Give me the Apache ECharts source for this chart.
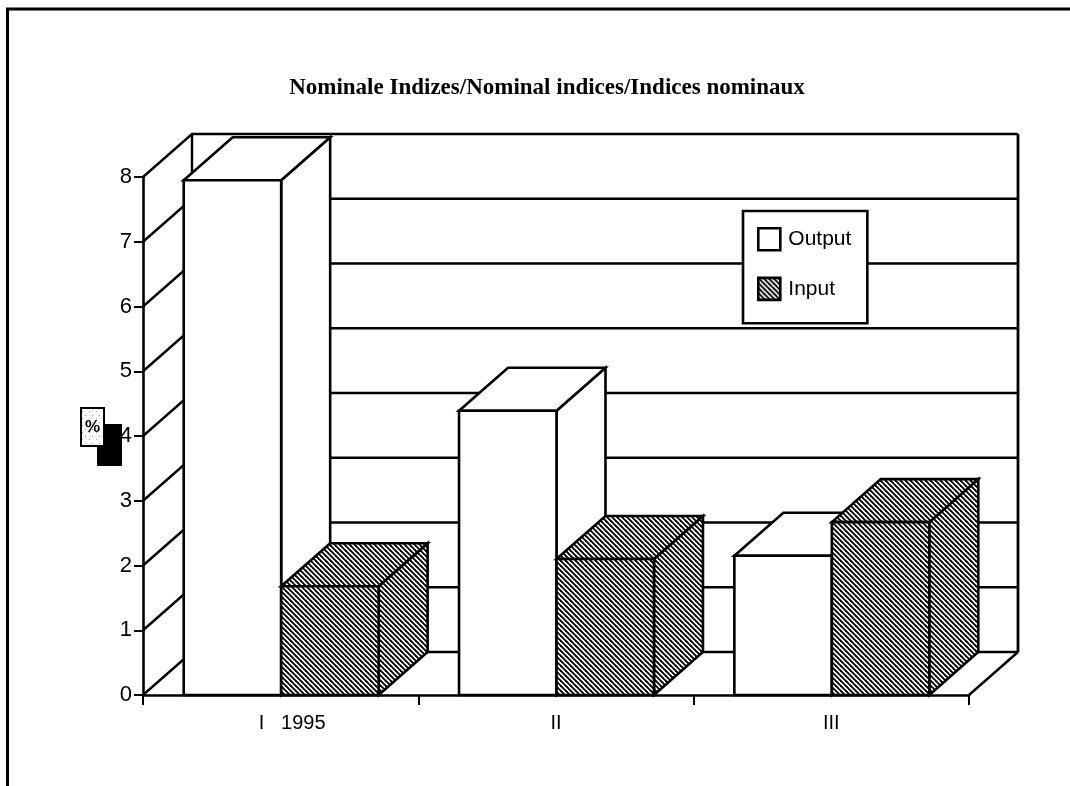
<!DOCTYPE html>
<html>
<head>
<meta charset="utf-8">
<style>html,body{margin:0;padding:0;background:#fff}#main{width:1070px;height:786px}</style>
<script src="https://cdn.jsdelivr.net/npm/echarts@6/dist/echarts.min.js"></script>
</head>
<body>
<div id="main"></div>
<script>
// data
var categories = ['I   1995', 'II', 'III'];
var outputValues = [7.95, 4.39, 2.15];
var inputValues = [1.68, 2.1, 2.67];
var valueTicks = [0, 1, 2, 3, 4, 5, 6, 7, 8];

// depth of the fake 3d box
var depthX = 49;
var depthY = -43;
var lineColor = '#000';

// hatch tile for the input bars
function makeHatch() {
    var c = document.createElement('canvas');
    c.width = 5;
    c.height = 5;
    var ctx = c.getContext('2d');
    ctx.fillStyle = '#fff';
    ctx.fillRect(0, 0, 5, 5);
    ctx.strokeStyle = '#000';
    ctx.lineWidth = 1.9;
    [-5, 0, 5].forEach(function (o) {
        ctx.beginPath();
        ctx.moveTo(o - 1, -1);
        ctx.lineTo(o + 6, 6);
        ctx.stroke();
    });
    return {image: c, repeat: 'repeat'};
}
// speckled tile behind the % sign
function makeSpeckle() {
    var c = document.createElement('canvas');
    c.width = 7;
    c.height = 7;
    var ctx = c.getContext('2d');
    ctx.fillStyle = '#fff';
    ctx.fillRect(0, 0, 7, 7);
    ctx.fillStyle = '#999';
    ctx.fillRect(1, 2, 1, 1);
    ctx.fillRect(5, 5, 1, 1);
    return {image: c, repeat: 'repeat'};
}
var hatch = makeHatch();

var chart = echarts.init(document.getElementById('main'));

function line(points, width) {
    return {
        type: 'polyline',
        shape: {points: points},
        style: {fill: null, stroke: lineColor, lineWidth: width || 2}
    };
}

// back wall, left wall and floor
function renderWall(params, api) {
    var cs = params.coordSys;
    var v = api.value(1);
    var y = api.coord([0, v])[1];
    var x0 = cs.x;
    var x1 = cs.x + cs.width;
    var top = api.coord([0, valueTicks[valueTicks.length - 1]])[1];
    var bottom = api.coord([0, 0])[1];
    var kids = [line([[x0, y], [x0 + depthX, y + depthY], [x1 + depthX, y + depthY]], 2.4)];
    if (v === 0) {
        kids.push(line([[x1, y], [x1 + depthX, y + depthY]], 2.4));
        kids.push(line([[x0 + depthX, top + depthY], [x0 + depthX, bottom + depthY]], 2.4));
        kids.push(line([[x1 + depthX, top + depthY], [x1 + depthX, bottom + depthY]], 2.8));
    }
    return {type: 'group', children: kids};
}

// one fake 3d column, slot is -1 for left of centre and 0 for right of centre
function makeBar(slot, fill) {
    return function (params, api) {
        var band = api.size([1, 0])[0];
        var w = band * 0.354;
        var c = api.coord([api.value(0), 0]);
        var t = api.coord([api.value(0), api.value(1)]);
        var l = c[0] + slot * w + 0.5;
        var r = l + w;
        var s = {fill: fill, stroke: lineColor, lineWidth: 2.6, lineJoin: 'miter'};
        function poly(pts) {
            return {type: 'polygon', shape: {points: pts}, style: s};
        }
        return {
            type: 'group',
            children: [
                poly([[r, c[1]], [r + depthX, c[1] + depthY], [r + depthX, t[1] + depthY], [r, t[1]]]),
                poly([[l, t[1]], [l + depthX, t[1] + depthY], [r + depthX, t[1] + depthY], [r, t[1]]]),
                poly([[l, c[1]], [l, t[1]], [r, t[1]], [r, c[1]]])
            ]
        };
    };
}

var option = {
    animation: false,
    backgroundColor: '#fff',
    title: {
        text: 'Nominale Indizes/Nominal indices/Indices nominaux',
        left: 542,
        top: 72,
        textAlign: 'center',
        textStyle: {fontFamily: 'Liberation Serif', fontWeight: 'bold', fontSize: 23, color: '#000'}
    },
    grid: {left: 143, right: 101, top: 177, bottom: 91},
    legend: {
        left: 743,
        top: 211,
        orient: 'vertical',
        backgroundColor: '#fff',
        borderColor: '#000',
        borderWidth: 2.6,
        borderRadius: 0,
        padding: [16, 16, 22, 14],
        itemWidth: 22,
        itemHeight: 22,
        itemGap: 25,
        z: 20,
        selectedMode: false,
        textStyle: {fontFamily: 'Liberation Sans', fontSize: 21, color: '#000', padding: [3, 0, 0, 3]},
        data: [
            {name: 'Output', icon: 'rect', itemStyle: {color: '#fff', borderColor: '#000', borderWidth: 2.6}},
            {name: 'Input', icon: 'rect', itemStyle: {color: hatch, borderColor: '#000', borderWidth: 2.6}}
        ]
    },
    xAxis: {
        type: 'category',
        data: categories,
        axisLine: {lineStyle: {color: '#000', width: 2.6}},
        axisTick: {show: true, length: 10, lineStyle: {color: '#000', width: 2}},
        axisLabel: {
            margin: 18,
            color: '#000',
            fontFamily: 'Liberation Sans',
            fontSize: 20,
            formatter: function (val, i) {
                return i === 0 ? '{first|' + val + '}' : val;
            },
            rich: {first: {padding: [0, 0, 0, 23], fontFamily: 'Liberation Sans', fontSize: 20, color: '#000'}}
        }
    },
    yAxis: {
        type: 'value',
        min: 0,
        max: 8,
        interval: 1,
        splitLine: {show: false},
        axisLine: {show: true, lineStyle: {color: '#000', width: 2.6}},
        axisTick: {show: true, length: 9, lineStyle: {color: '#000', width: 2}},
        axisLabel: {margin: 11, color: '#000', fontFamily: 'Liberation Sans', fontSize: 22}
    },
    graphic: [
        // page frame, only left and top sides
        {type: 'polyline', shape: {points: [[7.5, 786], [7.5, 9], [1070, 9]]}, style: {fill: null, stroke: '#000', lineWidth: 3}},
        // % badge with its black shadow
        {type: 'rect', z: 1, shape: {x: 97, y: 424, width: 25, height: 42}, style: {fill: '#000'}},
        {type: 'rect', z: 2, shape: {x: 81, y: 408, width: 23, height: 38}, style: {fill: makeSpeckle(), stroke: '#000', lineWidth: 2}},
        {type: 'text', z: 3, x: 92.5, y: 427, style: {text: '%', fill: '#000', font: 'bold 17px "Liberation Sans"', align: 'center', verticalAlign: 'middle'}}
    ],
    series: [
        {
            name: 'wall',
            type: 'custom',
            renderItem: renderWall,
            data: valueTicks.map(function (v) { return [0, v]; }),
            z: 1,
            silent: true
        },
        {
            name: 'Output',
            type: 'custom',
            renderItem: makeBar(-1, '#fff'),
            data: outputValues.map(function (v, i) { return [i, v]; }),
            itemStyle: {color: '#fff'},
            z: 2
        },
        {
            name: 'Input',
            type: 'custom',
            renderItem: makeBar(0, hatch),
            data: inputValues.map(function (v, i) { return [i, v]; }),
            itemStyle: {color: '#333'},
            z: 3
        }
    ]
};

chart.setOption(option);
</script>
</body>
</html>
